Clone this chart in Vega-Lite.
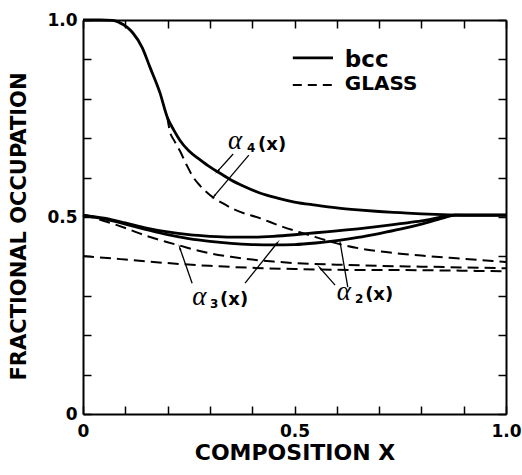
{
  "$schema": "https://vega.github.io/schema/vega-lite/v6.json",
  "width": 423,
  "height": 394,
  "autosize": {"type": "none"},
  "padding": {"left": 83, "top": 20, "right": 16, "bottom": 61},
  "background": "white",
  "config": {"view": {"stroke": null}, "font": "DejaVu Sans"},
  "datasets": {
    "curves": [
      {"curve": "a4", "type": "bcc", "x": 0, "y": 1},
      {"curve": "a4", "type": "bcc", "x": 0.04, "y": 1},
      {"curve": "a4", "type": "bcc", "x": 0.07, "y": 0.999},
      {"curve": "a4", "type": "bcc", "x": 0.085, "y": 0.994},
      {"curve": "a4", "type": "bcc", "x": 0.104, "y": 0.982},
      {"curve": "a4", "type": "bcc", "x": 0.118, "y": 0.967},
      {"curve": "a4", "type": "bcc", "x": 0.14, "y": 0.93},
      {"curve": "a4", "type": "bcc", "x": 0.158, "y": 0.881},
      {"curve": "a4", "type": "bcc", "x": 0.182, "y": 0.815},
      {"curve": "a4", "type": "bcc", "x": 0.199, "y": 0.754},
      {"curve": "a4", "type": "bcc", "x": 0.215, "y": 0.72},
      {"curve": "a4", "type": "bcc", "x": 0.229, "y": 0.695},
      {"curve": "a4", "type": "bcc", "x": 0.25, "y": 0.668},
      {"curve": "a4", "type": "bcc", "x": 0.277, "y": 0.645},
      {"curve": "a4", "type": "bcc", "x": 0.3, "y": 0.627},
      {"curve": "a4", "type": "bcc", "x": 0.324, "y": 0.611},
      {"curve": "a4", "type": "bcc", "x": 0.35, "y": 0.594},
      {"curve": "a4", "type": "bcc", "x": 0.38, "y": 0.578},
      {"curve": "a4", "type": "bcc", "x": 0.418, "y": 0.561},
      {"curve": "a4", "type": "bcc", "x": 0.46, "y": 0.548},
      {"curve": "a4", "type": "bcc", "x": 0.5, "y": 0.538},
      {"curve": "a4", "type": "bcc", "x": 0.55, "y": 0.53},
      {"curve": "a4", "type": "bcc", "x": 0.6, "y": 0.523},
      {"curve": "a4", "type": "bcc", "x": 0.65, "y": 0.518},
      {"curve": "a4", "type": "bcc", "x": 0.7, "y": 0.514},
      {"curve": "a4", "type": "bcc", "x": 0.75, "y": 0.511},
      {"curve": "a4", "type": "bcc", "x": 0.8, "y": 0.508},
      {"curve": "a4", "type": "bcc", "x": 0.85, "y": 0.506},
      {"curve": "a4", "type": "bcc", "x": 0.9, "y": 0.505},
      {"curve": "a4", "type": "bcc", "x": 1.0, "y": 0.505},
      {"curve": "a3", "type": "bcc", "x": 0, "y": 0.505},
      {"curve": "a3", "type": "bcc", "x": 0.05, "y": 0.497},
      {"curve": "a3", "type": "bcc", "x": 0.1, "y": 0.485},
      {"curve": "a3", "type": "bcc", "x": 0.15, "y": 0.472},
      {"curve": "a3", "type": "bcc", "x": 0.2, "y": 0.462},
      {"curve": "a3", "type": "bcc", "x": 0.25, "y": 0.455},
      {"curve": "a3", "type": "bcc", "x": 0.3, "y": 0.451},
      {"curve": "a3", "type": "bcc", "x": 0.35, "y": 0.449},
      {"curve": "a3", "type": "bcc", "x": 0.4, "y": 0.449},
      {"curve": "a3", "type": "bcc", "x": 0.45, "y": 0.451},
      {"curve": "a3", "type": "bcc", "x": 0.5, "y": 0.455},
      {"curve": "a3", "type": "bcc", "x": 0.55, "y": 0.46},
      {"curve": "a3", "type": "bcc", "x": 0.6, "y": 0.465},
      {"curve": "a3", "type": "bcc", "x": 0.65, "y": 0.47},
      {"curve": "a3", "type": "bcc", "x": 0.7, "y": 0.476},
      {"curve": "a3", "type": "bcc", "x": 0.75, "y": 0.483},
      {"curve": "a3", "type": "bcc", "x": 0.8, "y": 0.49},
      {"curve": "a3", "type": "bcc", "x": 0.85, "y": 0.5},
      {"curve": "a3", "type": "bcc", "x": 0.88, "y": 0.505},
      {"curve": "a3", "type": "bcc", "x": 1.0, "y": 0.505},
      {"curve": "a2", "type": "bcc", "x": 0, "y": 0.505},
      {"curve": "a2", "type": "bcc", "x": 0.05, "y": 0.495},
      {"curve": "a2", "type": "bcc", "x": 0.1, "y": 0.482},
      {"curve": "a2", "type": "bcc", "x": 0.15, "y": 0.468},
      {"curve": "a2", "type": "bcc", "x": 0.2, "y": 0.455},
      {"curve": "a2", "type": "bcc", "x": 0.25, "y": 0.445},
      {"curve": "a2", "type": "bcc", "x": 0.3, "y": 0.438},
      {"curve": "a2", "type": "bcc", "x": 0.35, "y": 0.433},
      {"curve": "a2", "type": "bcc", "x": 0.4, "y": 0.43},
      {"curve": "a2", "type": "bcc", "x": 0.45, "y": 0.429},
      {"curve": "a2", "type": "bcc", "x": 0.5, "y": 0.43},
      {"curve": "a2", "type": "bcc", "x": 0.55, "y": 0.434},
      {"curve": "a2", "type": "bcc", "x": 0.6, "y": 0.44},
      {"curve": "a2", "type": "bcc", "x": 0.65, "y": 0.448},
      {"curve": "a2", "type": "bcc", "x": 0.7, "y": 0.458},
      {"curve": "a2", "type": "bcc", "x": 0.75, "y": 0.469},
      {"curve": "a2", "type": "bcc", "x": 0.8, "y": 0.482},
      {"curve": "a2", "type": "bcc", "x": 0.85, "y": 0.497},
      {"curve": "a2", "type": "bcc", "x": 0.88, "y": 0.505},
      {"curve": "a2", "type": "bcc", "x": 1.0, "y": 0.505},
      {"curve": "a4g", "type": "glass", "x": 0.199, "y": 0.754},
      {"curve": "a4g", "type": "glass", "x": 0.206, "y": 0.715},
      {"curve": "a4g", "type": "glass", "x": 0.215, "y": 0.695},
      {"curve": "a4g", "type": "glass", "x": 0.229, "y": 0.668},
      {"curve": "a4g", "type": "glass", "x": 0.245, "y": 0.632},
      {"curve": "a4g", "type": "glass", "x": 0.26, "y": 0.602},
      {"curve": "a4g", "type": "glass", "x": 0.277, "y": 0.579},
      {"curve": "a4g", "type": "glass", "x": 0.3, "y": 0.556},
      {"curve": "a4g", "type": "glass", "x": 0.33, "y": 0.535},
      {"curve": "a4g", "type": "glass", "x": 0.36, "y": 0.518},
      {"curve": "a4g", "type": "glass", "x": 0.418, "y": 0.497},
      {"curve": "a4g", "type": "glass", "x": 0.47, "y": 0.476},
      {"curve": "a4g", "type": "glass", "x": 0.51, "y": 0.462},
      {"curve": "a4g", "type": "glass", "x": 0.55, "y": 0.449},
      {"curve": "a4g", "type": "glass", "x": 0.6, "y": 0.433},
      {"curve": "a4g", "type": "glass", "x": 0.65, "y": 0.421},
      {"curve": "a4g", "type": "glass", "x": 0.7, "y": 0.413},
      {"curve": "a4g", "type": "glass", "x": 0.75, "y": 0.407},
      {"curve": "a4g", "type": "glass", "x": 0.8, "y": 0.402},
      {"curve": "a4g", "type": "glass", "x": 0.9, "y": 0.394},
      {"curve": "a4g", "type": "glass", "x": 1.0, "y": 0.386},
      {"curve": "a3g", "type": "glass", "x": 0, "y": 0.505},
      {"curve": "a3g", "type": "glass", "x": 0.05, "y": 0.49},
      {"curve": "a3g", "type": "glass", "x": 0.1, "y": 0.472},
      {"curve": "a3g", "type": "glass", "x": 0.15, "y": 0.452},
      {"curve": "a3g", "type": "glass", "x": 0.2, "y": 0.436},
      {"curve": "a3g", "type": "glass", "x": 0.234, "y": 0.426},
      {"curve": "a3g", "type": "glass", "x": 0.26, "y": 0.418},
      {"curve": "a3g", "type": "glass", "x": 0.3, "y": 0.408},
      {"curve": "a3g", "type": "glass", "x": 0.35, "y": 0.399},
      {"curve": "a3g", "type": "glass", "x": 0.4, "y": 0.392},
      {"curve": "a3g", "type": "glass", "x": 0.45, "y": 0.387},
      {"curve": "a3g", "type": "glass", "x": 0.5, "y": 0.383},
      {"curve": "a3g", "type": "glass", "x": 0.6, "y": 0.379},
      {"curve": "a3g", "type": "glass", "x": 0.7, "y": 0.376},
      {"curve": "a3g", "type": "glass", "x": 0.8, "y": 0.374},
      {"curve": "a3g", "type": "glass", "x": 0.9, "y": 0.372},
      {"curve": "a3g", "type": "glass", "x": 1.0, "y": 0.37},
      {"curve": "a2g", "type": "glass", "x": 0, "y": 0.401},
      {"curve": "a2g", "type": "glass", "x": 0.1, "y": 0.392},
      {"curve": "a2g", "type": "glass", "x": 0.2, "y": 0.383},
      {"curve": "a2g", "type": "glass", "x": 0.3, "y": 0.376},
      {"curve": "a2g", "type": "glass", "x": 0.4, "y": 0.371},
      {"curve": "a2g", "type": "glass", "x": 0.5, "y": 0.368},
      {"curve": "a2g", "type": "glass", "x": 0.6, "y": 0.366},
      {"curve": "a2g", "type": "glass", "x": 0.8, "y": 0.365},
      {"curve": "a2g", "type": "glass", "x": 1.0, "y": 0.362}
    ],
    "arrows": [
      {"x": 0.355, "y": 0.66, "x2": 0.319, "y2": 0.617},
      {"x": 0.392, "y": 0.657, "x2": 0.31, "y2": 0.553},
      {"x": 0.258, "y": 0.332, "x2": 0.229, "y2": 0.421},
      {"x": 0.383, "y": 0.332, "x2": 0.459, "y2": 0.434},
      {"x": 0.596, "y": 0.327, "x2": 0.56, "y2": 0.371},
      {"x": 0.626, "y": 0.322, "x2": 0.608, "y2": 0.434}
    ],
    "alphas": [
      {"x": 0.343, "y": 0.673},
      {"x": 0.258, "y": 0.277},
      {"x": 0.6, "y": 0.289}
    ],
    "subs": [
      {"x": 0.388, "y": 0.665, "t": "4"},
      {"x": 0.3, "y": 0.269, "t": "3"},
      {"x": 0.643, "y": 0.282, "t": "2"}
    ],
    "args": [
      {"x": 0.414, "y": 0.67},
      {"x": 0.324, "y": 0.277},
      {"x": 0.667, "y": 0.289}
    ],
    "legend": [
      {"type": "bcc", "x": 0.496, "x2": 0.591, "y": 0.904, "ty": 0.881, "tx": 0.619},
      {"type": "GLASS", "x": 0.496, "x2": 0.591, "y": 0.835, "ty": 0.822, "tx": 0.619}
    ]
  },
  "resolve": {"axis": {"x": "independent", "y": "independent"}},
  "layer": [
    {
      "data": {"name": "curves"},
      "transform": [{"filter": "datum.type == 'bcc'"}],
      "mark": {"type": "line", "color": "black", "strokeWidth": 2.8, "interpolate": "monotone"},
      "encoding": {
        "x": {"field": "x", "type": "quantitative", "scale": {"domain": [0, 1], "nice": false, "zero": false},
          "axis": {"orient": "bottom", "values": [0, 0.1, 0.2, 0.3, 0.4, 0.5, 0.6, 0.7, 0.8, 0.9, 1],
            "labelExpr": "datum.value == 0 ? '0' : datum.value == 0.5 ? '0.5' : datum.value == 1 ? '1.0' : ''",
            "grid": false, "tickSize": -8, "tickWidth": 1.5, "tickColor": "black", "domainColor": "black", "domainWidth": 2,
            "labelFont": "DejaVu Sans", "labelFontWeight": "bold", "labelFontSize": 17, "labelColor": "black", "labelPadding": 17,
            "labelFlush": false, "labelOverlap": false,
            "title": "COMPOSITION X", "titleFont": "DejaVu Sans", "titleFontWeight": "bold", "titleFontSize": 22, "titleColor": "black", "titlePadding": 3}},
        "y": {"field": "y", "type": "quantitative", "scale": {"domain": [0, 1], "nice": false, "zero": false},
          "axis": {"orient": "left", "values": [0, 0.1, 0.2, 0.3, 0.4, 0.5, 0.6, 0.7, 0.8, 0.9, 1],
            "labelExpr": "datum.value == 0 ? '0' : datum.value == 0.5 ? '0.5' : datum.value == 1 ? '1.0' : ''",
            "grid": false, "tickSize": -8, "tickWidth": 1.5, "tickColor": "black", "domainColor": "black", "domainWidth": 2,
            "labelFont": "DejaVu Sans", "labelFontWeight": "bold", "labelFontSize": 17, "labelColor": "black", "labelPadding": 14,
            "labelFlush": false, "labelOverlap": false,
            "title": "FRACTIONAL OCCUPATION", "titleFont": "DejaVu Sans", "titleFontWeight": "bold", "titleFontSize": 21, "titleColor": "black", "titleX": -54, "titleY": 206}},
        "detail": {"field": "curve", "type": "nominal"}
      }
    },
    {
      "data": {"name": "curves"},
      "transform": [{"filter": "datum.type == 'glass'"}],
      "mark": {"type": "line", "color": "black", "strokeWidth": 2, "strokeDash": [11, 6], "interpolate": "monotone"},
      "encoding": {
        "x": {"field": "x", "type": "quantitative", "axis": {"orient": "top", "values": [0, 0.1, 0.2, 0.3, 0.4, 0.5, 0.6, 0.7, 0.8, 0.9, 1], "labels": false, "title": null, "grid": false, "tickSize": -8, "tickWidth": 1.5, "tickColor": "black", "domainColor": "black", "domainWidth": 2}},
        "y": {"field": "y", "type": "quantitative", "axis": {"orient": "right", "values": [0, 0.1, 0.2, 0.3, 0.4, 0.5, 0.6, 0.7, 0.8, 0.9, 1], "labels": false, "title": null, "grid": false, "tickSize": -8, "tickWidth": 1.5, "tickColor": "black", "domainColor": "black", "domainWidth": 2}},
        "detail": {"field": "curve", "type": "nominal"}
      }
    },
    {
      "data": {"name": "arrows"},
      "mark": {"type": "rule", "color": "black", "strokeWidth": 1.3},
      "encoding": {
        "x": {"field": "x", "type": "quantitative", "axis": null},
        "y": {"field": "y", "type": "quantitative", "axis": null},
        "x2": {"field": "x2"},
        "y2": {"field": "y2"}
      }
    },
    {
      "data": {"name": "arrows"},
      "transform": [{"calculate": "atan2((datum.x2 - datum.x) * 423, (datum.y2 - datum.y) * 394) * 180 / PI", "as": "ang"}],
      "mark": {"type": "point", "shape": "wedge", "filled": true, "color": "black", "size": 55, "opacity": 1},
      "encoding": {
        "x": {"field": "x2", "type": "quantitative", "axis": null},
        "y": {"field": "y2", "type": "quantitative", "axis": null},
        "angle": {"field": "ang", "type": "quantitative", "scale": null}
      }
    },
    {
      "data": {"name": "alphas"},
      "mark": {"type": "text", "text": "α", "font": "Liberation Serif", "fontStyle": "italic", "fontSize": 27, "align": "left", "baseline": "alphabetic", "color": "black"},
      "encoding": {
        "x": {"field": "x", "type": "quantitative", "axis": null},
        "y": {"field": "y", "type": "quantitative", "axis": null}
      }
    },
    {
      "data": {"name": "subs"},
      "mark": {"type": "text", "font": "DejaVu Sans", "fontWeight": "bold", "fontSize": 12, "align": "left", "baseline": "alphabetic", "color": "black"},
      "encoding": {
        "x": {"field": "x", "type": "quantitative", "axis": null},
        "y": {"field": "y", "type": "quantitative", "axis": null},
        "text": {"field": "t"}
      }
    },
    {
      "data": {"name": "args"},
      "mark": {"type": "text", "text": "(x)", "font": "DejaVu Sans", "fontWeight": "bold", "fontSize": 18, "align": "left", "baseline": "alphabetic", "color": "black"},
      "encoding": {
        "x": {"field": "x", "type": "quantitative", "axis": null},
        "y": {"field": "y", "type": "quantitative", "axis": null}
      }
    },
    {
      "data": {"name": "legend"},
      "transform": [{"filter": "datum.type == 'bcc'"}],
      "mark": {"type": "rule", "color": "black", "strokeWidth": 2.8},
      "encoding": {
        "x": {"field": "x", "type": "quantitative", "axis": null},
        "x2": {"field": "x2"},
        "y": {"field": "y", "type": "quantitative", "axis": null}
      }
    },
    {
      "data": {"name": "legend"},
      "transform": [{"filter": "datum.type == 'GLASS'"}],
      "mark": {"type": "rule", "color": "black", "strokeWidth": 2, "strokeDash": [9, 6]},
      "encoding": {
        "x": {"field": "x", "type": "quantitative", "axis": null},
        "x2": {"field": "x2"},
        "y": {"field": "y", "type": "quantitative", "axis": null}
      }
    },
    {
      "data": {"name": "legend"},
      "mark": {"type": "text", "font": "DejaVu Sans", "fontWeight": "bold", "align": "left", "baseline": "alphabetic", "color": "black"},
      "encoding": {
        "x": {"field": "tx", "type": "quantitative", "axis": null},
        "y": {"field": "ty", "type": "quantitative", "axis": null},
        "text": {"field": "type"},
        "size": {"field": "type", "type": "nominal", "scale": {"domain": ["bcc", "GLASS"], "range": [23, 20]}, "legend": null}
      }
    }
  ]
}
